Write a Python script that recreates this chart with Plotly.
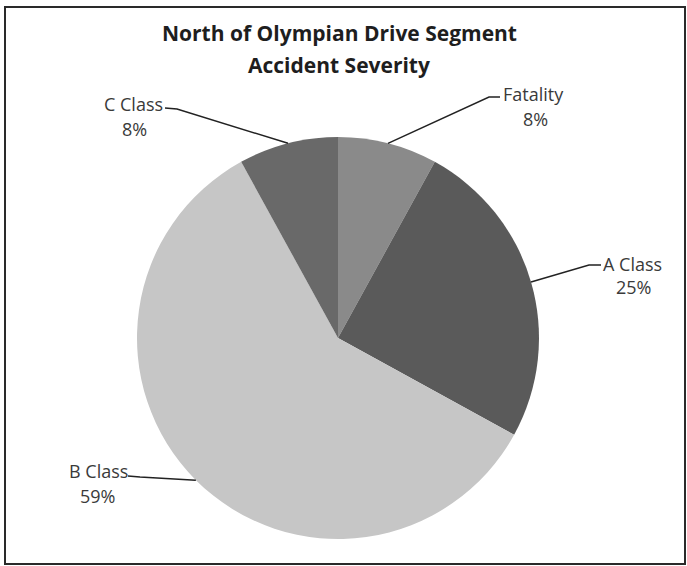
import math
import plotly.graph_objects as go

# ---- data ----
labels = ["Fatality", "A Class", "B Class", "C Class"]
values = [8, 25, 59, 8]
colors = ["#8a8a8a", "#5a5a5a", "#c6c6c6", "#696969"]
title_lines = ["North of Olympian Drive Segment", "Accident Severity"]

# ---- layout constants (pixels) ----
W, H = 687, 566
CX, CY, R = 338, 338, 201

# label text centres (name line, percent line) and leader elbows, in pixels
label_pos = {
    "Fatality": {"name": (533, 94), "pct": (535, 119), "elbow": (489, 97), "end": (500, 97)},
    "A Class": {"name": (632, 264), "pct": (633, 287), "elbow": (589, 265), "end": (601, 265)},
    "B Class": {"name": (98, 471), "pct": (97, 496), "elbow": (140, 477), "end": (128, 476)},
    "C Class": {"name": (133, 104), "pct": (134, 129), "elbow": (177, 109), "end": (165, 108)},
}


def px(x):
    return x / W


def py(y):
    return 1 - y / H


fig = go.Figure()
fig.add_trace(go.Pie(
    labels=labels,
    values=values,
    sort=False,
    direction="clockwise",
    rotation=0,
    marker=dict(colors=colors, line=dict(width=0)),
    textinfo="none",
    hoverinfo="label+percent",
    showlegend=False,
    domain=dict(x=[px(CX - R), px(CX + R)], y=[py(CY + R), py(CY - R)]),
))

total = sum(values)
shapes = []
annotations = []
cum = 0
label_font = dict(family="Open Sans", size=18, color="#3a3a3a")
for lab, v in zip(labels, values):
    mid = (cum + v / 2) / total * 2 * math.pi
    cum += v
    ex = CX + R * math.sin(mid)
    ey = CY - R * math.cos(mid)
    p = label_pos[lab]
    pts = [(ex, ey), p["elbow"], p["end"]]
    path = "M " + " L ".join(f"{px(a)},{py(b)}" for a, b in pts)
    shapes.append(dict(type="path", xref="paper", yref="paper", path=path,
                       line=dict(color="#222222", width=1.5)))
    pct = round(v / total * 100)
    annotations.append(dict(x=px(p["name"][0]), y=py(p["name"][1]), xref="paper", yref="paper",
                            text=lab, showarrow=False, font=label_font,
                            xanchor="center", yanchor="middle"))
    annotations.append(dict(x=px(p["pct"][0]), y=py(p["pct"][1]), xref="paper", yref="paper",
                            text=f"{pct}%", showarrow=False, font=label_font,
                            xanchor="center", yanchor="middle"))

title_font = dict(family="Open Sans", size=21, color="#1e1e1e")
for i, t in enumerate(title_lines):
    annotations.append(dict(x=px(339), y=py(33 + 32 * i), xref="paper", yref="paper",
                            text=f"<b>{t}</b>", showarrow=False, font=title_font,
                            xanchor="center", yanchor="middle"))

# chart frame
shapes.append(dict(type="rect", xref="paper", yref="paper",
                   x0=px(5), x1=px(685), y0=py(564), y1=py(7),
                   line=dict(color="#2a2a2a", width=2), fillcolor="rgba(0,0,0,0)"))

fig.update_layout(
    width=W, height=H,
    margin=dict(l=0, r=0, t=0, b=0),
    paper_bgcolor="white",
    plot_bgcolor="white",
    shapes=shapes,
    annotations=annotations,
)

fig.write_html("out.html")
